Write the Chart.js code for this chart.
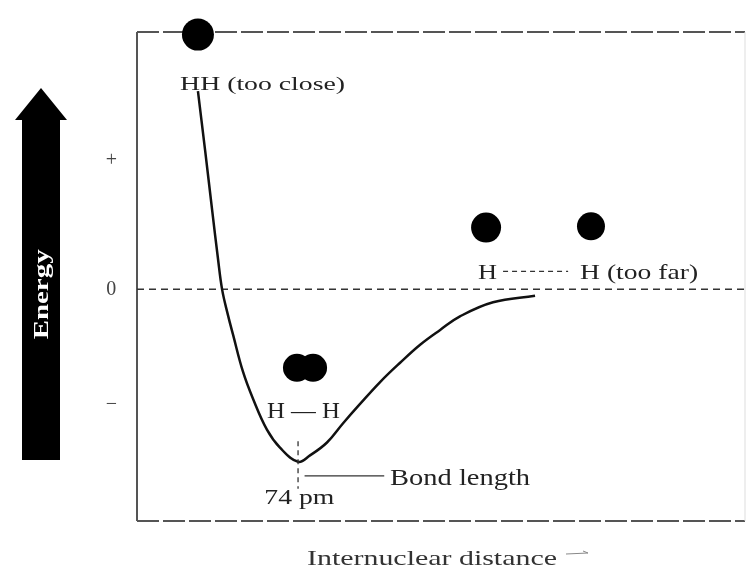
<!DOCTYPE html>
<html>
<head>
<meta charset="utf-8">
<script src="https://cdn.jsdelivr.net/npm/chart.js@4"></script>
<style>
  html, body { margin: 0; padding: 0; background: #fff; }
  #wrap { width: 748px; height: 572px; }
</style>
</head>
<body>
<div id="wrap"><canvas id="chart" width="748" height="572"></canvas></div>
<script>
// Potential energy of two H atoms vs internuclear distance (pm, schematic)
const distance = [28.0, 31.3, 34.5, 37.2, 39.1, 41.8, 44.1, 48.7, 53.3, 59.7, 65.7, 74.0,
  79.5, 87.3, 94.7, 102.5, 111.7, 120.9, 130.1, 139.3, 148.4, 163.6, 182.9];
const energy = [1.54, 1.08, 0.62, 0.24, 0.0, -0.2, -0.35, -0.64, -0.85, -1.09, -1.23, -1.34,
  -1.29, -1.19, -1.04, -0.89, -0.72, -0.57, -0.43, -0.315, -0.21, -0.1, -0.05];

// atoms drawn as big dots
const atomX = [28.0, 73.5, 80.9, 160.4, 208.6];
const atomY = [1.98, -0.61, -0.61, 0.48, 0.49];
const atomSize = [16, 14, 14, 15, 14];

// y tick marks
const tickValues = [-0.9, 0, 1];
const tickLabels = ["\u2212", "0", "+"];

const bondLength = 74;

// text labels: [text, x, y, width, font size]
const labels = [
  ["HH (too close)", 19.8, 1.55, 165, 18],
  ["H \u2014 H", 59.7, -1.0, 73, 24],
  ["Bond length", 116.3, -1.52, 140, 24],
  ["74 pm", 58.5, -1.67, 70, 22],
  ["H", 156.7, 0.08, 19, 22],
  ["H (too far)", 203.6, 0.08, 118, 22],
];

function fitText(ctx, text, x, y, width, size, color, bold) {
  ctx.save();
  ctx.font = (bold ? "bold " : "") + size + "px 'Liberation Serif', 'DejaVu Serif', serif";
  ctx.fillStyle = color;
  ctx.textBaseline = "alphabetic";
  ctx.textAlign = "left";
  const w = ctx.measureText(text).width;
  ctx.translate(x, y);
  ctx.scale(width / w, 1);
  ctx.fillText(text, 0, 0);
  ctx.restore();
}

const decorPlugin = {
  id: "decor",
  beforeDatasetsDraw(chart) {
    const { ctx, chartArea: a, scales } = chart;
    const zeroY = scales.y.getPixelForValue(0);
    const right = chart.width - 3;

    ctx.save();
    // frame
    ctx.strokeStyle = "#555";
    ctx.lineWidth = 2;
    ctx.setLineDash([22, 4]);
    ctx.beginPath();
    ctx.moveTo(a.left, a.top);
    ctx.lineTo(right, a.top);
    ctx.moveTo(a.left, a.bottom);
    ctx.lineTo(right, a.bottom);
    ctx.stroke();
    ctx.setLineDash([]);
    ctx.beginPath();
    ctx.moveTo(a.left, a.top);
    ctx.lineTo(a.left, a.bottom);
    ctx.stroke();
    ctx.strokeStyle = "#ddd";
    ctx.lineWidth = 1;
    ctx.beginPath();
    ctx.moveTo(right, a.top);
    ctx.lineTo(right, a.bottom);
    ctx.stroke();

    // zero energy line
    ctx.strokeStyle = "#333";
    ctx.lineWidth = 1.5;
    ctx.setLineDash([7, 5]);
    ctx.beginPath();
    ctx.moveTo(a.left, zeroY);
    ctx.lineTo(chart.width, zeroY);
    ctx.stroke();
    ctx.restore();

    // Energy arrow
    ctx.save();
    ctx.fillStyle = "#000";
    ctx.beginPath();
    ctx.moveTo(41, 88);
    ctx.lineTo(67, 120);
    ctx.lineTo(60, 120);
    ctx.lineTo(60, 460);
    ctx.lineTo(22, 460);
    ctx.lineTo(22, 120);
    ctx.lineTo(15, 120);
    ctx.closePath();
    ctx.fill();
    ctx.translate(48, zeroY + 5);
    ctx.rotate(-Math.PI / 2);
    fitText(ctx, "Energy", -45, 0, 90, 20, "#fff", true);
    ctx.restore();
  },
  afterDatasetsDraw(chart) {
    const { ctx, chartArea: a, scales } = chart;
    const xs = scales.x, ys = scales.y;

    labels.forEach(([t, x, y, w, size]) => {
      fitText(ctx, t, xs.getPixelForValue(x), ys.getPixelForValue(y), w, size, "#222");
    });

    ctx.save();
    ctx.strokeStyle = "#333";
    ctx.lineWidth = 1.3;
    // dashes between far H atoms
    ctx.setLineDash([5, 4]);
    ctx.beginPath();
    ctx.moveTo(xs.getPixelForValue(168.2), ys.getPixelForValue(0.14));
    ctx.lineTo(xs.getPixelForValue(198.1), ys.getPixelForValue(0.14));
    ctx.stroke();

    // bond length marker
    const bx = xs.getPixelForValue(bondLength);
    ctx.setLineDash([5, 4]);
    ctx.beginPath();
    ctx.moveTo(bx, ys.getPixelForValue(-1.18));
    ctx.lineTo(bx, ys.getPixelForValue(-1.55));
    ctx.stroke();
    ctx.setLineDash([]);
    ctx.beginPath();
    ctx.moveTo(xs.getPixelForValue(77), ys.getPixelForValue(-1.45));
    ctx.lineTo(xs.getPixelForValue(113.6), ys.getPixelForValue(-1.45));
    ctx.stroke();

    // x axis title
    const ty = a.bottom + 44;
    fitText(ctx, "Internuclear distance", xs.getPixelForValue(78.1), ty, 250, 22, "#333");
    ctx.strokeStyle = "#888";
    ctx.lineWidth = 1;
    ctx.beginPath();
    ctx.moveTo(566, ty - 11);
    ctx.lineTo(588, ty - 12);
    ctx.lineTo(583, ty - 14);
    ctx.stroke();
    ctx.restore();
  },
};

new Chart(document.getElementById("chart"), {
  type: "line",
  data: {
    datasets: [
      {
        data: distance.map((d, i) => ({ x: d, y: energy[i] })),
        borderColor: "#111",
        borderWidth: 2.5,
        pointRadius: 0,
        tension: 0.4,
        fill: false,
      },
      {
        type: "scatter",
        data: atomX.map((d, i) => ({ x: d, y: atomY[i] })),
        pointRadius: atomSize,
        backgroundColor: "#000",
        borderWidth: 0,
        clip: false,
      },
    ],
  },
  options: {
    responsive: false,
    animation: false,
    layout: { padding: { left: 0, top: 28, right: 4, bottom: 51 } },
    plugins: { legend: { display: false }, tooltip: { enabled: false } },
    scales: {
      // the atom dots leave 16px of right padding, so the chart area ends at 732
      x: { type: "linear", min: 0, max: 273.4, display: false },
      y: {
        min: -1.8,
        max: 2.0,
        afterFit: (s) => { s.width = 137; },
        afterBuildTicks: (s) => { s.ticks = tickValues.map((v) => ({ value: v })); },
        grid: { display: false, drawTicks: false },
        border: { display: false },
        ticks: {
          padding: 20,
          crossAlign: "center",
          color: "#444",
          font: { family: "'Liberation Serif', serif", size: 20 },
          callback: (v) => tickLabels[tickValues.indexOf(v)],
        },
      },
    },
  },
  plugins: [decorPlugin],
});
</script>
</body>
</html>
